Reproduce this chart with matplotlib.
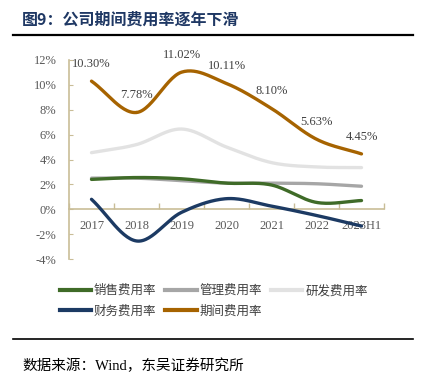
import numpy as np
import matplotlib
matplotlib.use('Agg')
import matplotlib.pyplot as plt
from matplotlib.lines import Line2D

plt.rcParams['font.family'] = ['Liberation Serif', 'Noto Sans CJK SC']

# data (%)
years = ['2017', '2018', '2019', '2020', '2021', '2022', '2023H1']
sales = [2.40, 2.55, 2.45, 2.10, 1.95, 0.55, 0.70]
admin = [2.50, 2.50, 2.30, 2.10, 2.10, 2.05, 1.85]
rnd = [4.55, 5.20, 6.45, 5.00, 3.75, 3.40, 3.35]
fin = [0.80, -2.55, -0.25, 0.85, 0.25, -0.50, -1.35]
period = [10.30, 7.78, 11.02, 10.11, 8.10, 5.63, 4.45]
period_labels = ['10.30%', '7.78%', '11.02%', '10.11%', '8.10%', '5.63%', '4.45%']

names = ['销售费用率', '管理费用率', '研发费用率', '财务费用率', '期间费用率']
colors = ['#3f6b28', '#a6a6a6', '#e2e2e2', '#1c3a63', '#a66300']


def smooth(x, y, n=30):
    # catmull-rom curve through the points, like Excel's smoothed line
    x = np.asarray(x, float)
    y = np.asarray(y, float)
    px = np.concatenate([[2 * x[0] - x[1]], x, [2 * x[-1] - x[-2]]])
    py = np.concatenate([[2 * y[0] - y[1]], y, [2 * y[-1] - y[-2]]])
    xs, ys = [], []
    t = np.linspace(0, 1, n)
    for i in range(1, len(px) - 2):
        for p, out in ((px, xs), (py, ys)):
            p0, p1, p2, p3 = p[i - 1], p[i], p[i + 1], p[i + 2]
            out.extend(0.5 * (2 * p1 + (-p0 + p2) * t + (2 * p0 - 5 * p1 + 4 * p2 - p3) * t ** 2
                              + (-p0 + 3 * p1 - 3 * p2 + p3) * t ** 3))
    return xs, ys


fig = plt.figure(figsize=(4.3, 3.83), dpi=100)
ax = fig.add_axes([69 / 430, 1 - 259 / 383, 315 / 430, 199 / 383])

xpos = np.arange(len(years)) + 0.5
series = [sales, admin, rnd, fin, period]
order = [2, 1, 0, 3, 4]
for i in order:
    sx, sy = smooth(xpos, series[i])
    ax.plot(sx, sy, color=colors[i], lw=2.4, solid_capstyle='round', zorder=3)

for x, v, lab in zip(xpos, period, period_labels):
    ax.annotate(lab, (x, v), xytext=(0, 12.5), textcoords='offset points',
                ha='center', va='center', fontsize=9, color='#404040')

ax.set_xlim(0, len(years))
ax.set_ylim(-4, 12)
ax.set_yticks(np.arange(-4, 13, 2))
ax.set_yticklabels(['%d%%' % v for v in range(-4, 13, 2)])

axis_col = '#c9bd97'
for s in ['top', 'right']:
    ax.spines[s].set_visible(False)
ax.spines['bottom'].set_position(('data', 0))
ax.spines['bottom'].set_color(axis_col)
ax.spines['left'].set_color(axis_col)
ax.spines['bottom'].set_linewidth(1.2)
ax.spines['left'].set_linewidth(1.2)
ax.set_xticks(np.arange(0, len(years) + 1))
ax.set_xticklabels([])
ax.set_xticks(xpos, minor=True)
ax.set_xticklabels(years, minor=True)
ax.tick_params(axis='x', which='major', direction='in', length=4, color=axis_col, width=1)
ax.tick_params(axis='x', which='minor', length=0, pad=8, labelsize=9, labelcolor='#595959')
ax.tick_params(axis='y', direction='in', length=3, color=axis_col, labelsize=9, labelcolor='#595959', pad=9)
ax.set_facecolor('none')

handles = [Line2D([], [], color=c, lw=3) for c in colors]
lh = [handles[k] for k in [0, 3, 1, 4, 2]]
ln = [names[k] for k in [0, 3, 1, 4, 2]]
fig.legend(lh, ln, ncol=3, loc='center', bbox_to_anchor=(0.497, 1 - 301 / 383),
           frameon=False, handlelength=2.5, handletextpad=0.25,
           columnspacing=0.7, labelspacing=0.6, labelcolor='#404040',
           prop={'family': ['Noto Sans CJK SC'], 'size': 9})

fig.text(22 / 430, 1 - 20 / 383, '图9：公司期间费用率逐年下滑', fontsize=11.5, fontweight='bold',
         color='#1f3864', va='center', ha='left', family=['Noto Sans CJK SC'])
fig.add_artist(Line2D([13 / 430, 413 / 430], [1 - 35 / 383, 1 - 35 / 383], color='black', lw=1.6))
fig.add_artist(Line2D([13 / 430, 413 / 430], [1 - 339 / 383, 1 - 339 / 383], color='black', lw=1.2))
fig.text(22 / 430, 1 - 366 / 383, '数据来源：Wind，东吴证券研究所', fontsize=10.5, color='black',
         va='center', ha='left')

fig.savefig('out.png', dpi=100)
